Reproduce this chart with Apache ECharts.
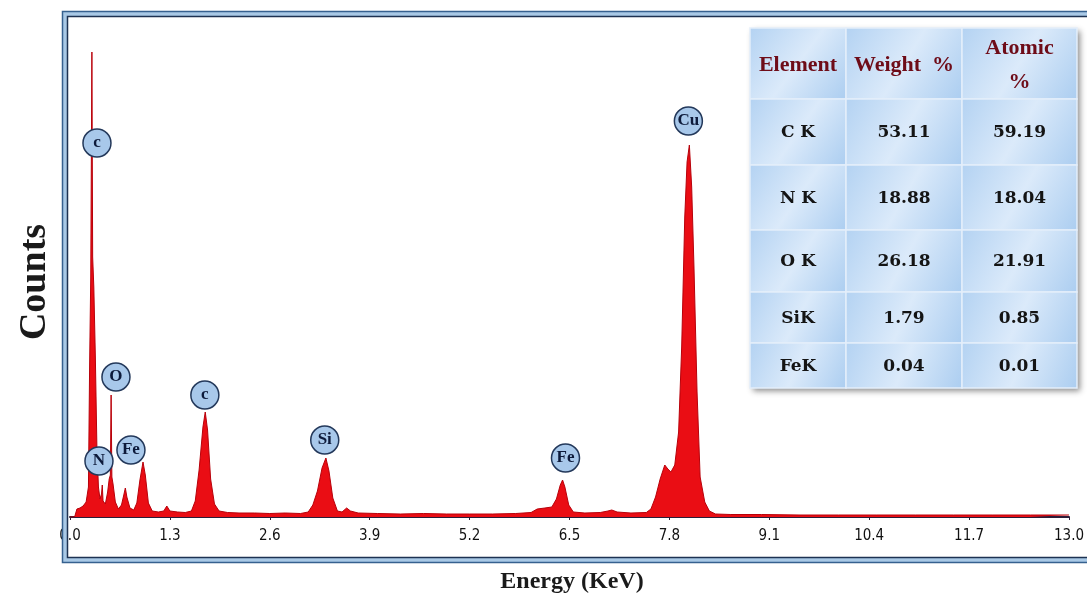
<!DOCTYPE html>
<html>
<head>
<meta charset="utf-8">
<script src="https://cdn.jsdelivr.net/npm/echarts@6/dist/echarts.min.js"></script>
<style>
html,body{margin:0;padding:0;background:#fff;}
#chart{width:1087px;height:597px;}
</style>
</head>
<body>
<div id="chart"></div>
<script>
// Spectrum (energy in keV, counts in arbitrary units)
const energy = [0.00,0.06,0.09,0.13,0.17,0.21,0.24,0.255,0.27,0.285,0.295,0.31,0.33,0.35,0.37,0.39,0.41,0.42,0.43,0.46,0.49,0.51,0.525,0.535,0.545,0.56,0.59,0.63,0.67,0.70,0.72,0.74,0.78,0.83,0.87,0.91,0.95,0.98,1.02,1.07,1.15,1.22,1.26,1.30,1.40,1.50,1.58,1.63,1.68,1.73,1.76,1.79,1.83,1.88,1.94,2.05,2.2,2.4,2.6,2.8,3.0,3.10,3.16,3.22,3.28,3.33,3.37,3.42,3.48,3.54,3.60,3.65,3.75,4.0,4.3,4.6,4.9,5.2,5.5,5.8,6.0,6.08,6.18,6.27,6.33,6.38,6.41,6.44,6.49,6.55,6.7,6.9,7.0,7.05,7.12,7.3,7.5,7.56,7.62,7.68,7.74,7.78,7.82,7.87,7.92,7.96,8.00,8.03,8.06,8.09,8.12,8.16,8.20,8.26,8.32,8.40,8.6,9.0,9.5,10.0,10.5,11.0,11.5,12.0,12.5,13.0];
const counts = [0,0,80,90,110,150,300,1500,2400,4650,2600,2300,1600,700,300,180,230,320,160,130,250,380,420,1220,400,330,150,80,120,220,290,200,90,70,140,370,550,420,140,60,50,60,110,60,50,45,60,160,470,900,1050,870,380,130,60,45,40,40,35,40,35,50,120,260,490,590,460,190,60,50,90,60,40,35,30,35,30,30,30,35,45,80,90,100,180,320,370,300,120,50,40,45,60,70,50,40,45,80,200,380,520,480,450,520,850,1700,3000,3550,3720,3300,2500,1250,400,150,60,30,25,25,20,20,20,20,20,20,20,20];

// Peak annotations
const peakNames  = ['c','N','O','Fe','c','Si','Fe','Cu'];
const peakEnergy = [0.351,0.377,0.598,0.793,1.755,3.315,6.448,8.047];
const peakCount  = [3740,560,1400,670,1220,770,590,3960];

// Axis ticks
const xMin = 0, xMax = 13, xStep = 1.3;

// Composition table
const tableHeader = ['Element','Weight  %','Atomic\n%'];
const tableElements = ['C K','N K','O K','SiK','FeK'];
const tableWeight = ['53.11','18.88','26.18','1.79','0.04'];
const tableAtomic = ['59.19','18.04','21.91','0.85','0.01'];

const chart = echarts.init(document.getElementById('chart'));

const serif = '"Liberation Serif","DejaVu Serif",serif';
const tserif = '"DejaVu Serif","Liberation Serif",serif';
const colX = [750, 846, 962, 1077];
const rowY = [28, 99, 165, 230, 292, 343, 388];

const tableEls = [];
tableEls.push({type:'rect', shape:{x:colX[0], y:rowY[0], width:colX[3]-colX[0], height:rowY[6]-rowY[0]},
  style:{fill:'#c4dcf4', shadowBlur:6, shadowColor:'rgba(0,0,0,0.45)', shadowOffsetX:3, shadowOffsetY:3}, z:50});
const rowsText = [tableHeader].concat(tableElements.map((e,i)=>[e, tableWeight[i], tableAtomic[i]]));
for (let r = 0; r < 6; r++) {
  for (let c = 0; c < 3; c++) {
    const x0 = colX[c], x1 = colX[c+1], y0 = rowY[r], y1 = rowY[r+1];
    tableEls.push({type:'rect', shape:{x:x0, y:y0, width:x1-x0, height:y1-y0},
      style:{fill:new echarts.graphic.LinearGradient(0,0,1,1,[{offset:0,color:'#b3d2f2'},{offset:0.5,color:'#dbeafa'},{offset:1,color:'#abcdf0'}]),
             stroke:'#e4eefa', lineWidth:1.5}, z:51});
    const header = r === 0;
    tableEls.push({type:'text', x:(x0+x1)/2, y:(y0+y1)/2 + (header ? 2 : 1),
      style:{text:rowsText[r][c], font:'bold ' + (header?22:17) + 'px ' + (header ? serif : tserif),
             fill: header ? '#6e0c18' : '#141414', align:'center', verticalAlign:'middle', lineHeight:34}, z:52});
  }
}

const frame = [
  {type:'rect', shape:{x:65, y:14, width:1040, height:546}, style:{fill:'none', stroke:'#a9c9e6', lineWidth:4}, z:60, silent:true},
  {type:'rect', shape:{x:62.5, y:11.5, width:1045, height:551}, style:{fill:'none', stroke:'#36618f', lineWidth:1.5}, z:61, silent:true},
  {type:'rect', shape:{x:67.5, y:16.5, width:1035, height:541}, style:{fill:'none', stroke:'#1d3252', lineWidth:1.5}, z:61, silent:true},
  {type:'text', x:35, y:282, rotation:Math.PI/2,
    style:{text:'Counts', font:'bold 38px ' + serif, fill:'#1a1a1a', align:'center', verticalAlign:'middle'}, z:60},
  {type:'text', x:572, y:582,
    style:{text:'Energy (KeV)', font:'bold 24px ' + serif, fill:'#1a1a1a', align:'center', verticalAlign:'middle'}, z:60}
];

chart.setOption({
  animation:false,
  backgroundColor:'#ffffff',
  grid:{left:70, right:17, top:15, bottom:80, containLabel:false},
  xAxis:{
    type:'value', min:xMin, max:xMax, interval:xStep,
    axisLine:{show:true, lineStyle:{color:'#2b1d38', width:2}},
    axisTick:{show:true, length:3, lineStyle:{color:'#2b1d38'}},
    splitLine:{show:false},
    axisLabel:{formatter:v=>v.toFixed(1), color:'#111', fontSize:15, margin:12,
      fontFamily:'"Liberation Sans Narrow","DejaVu Sans Condensed","Liberation Sans",sans-serif'}
  },
  yAxis:{type:'value', min:0, max:5020, show:false},
  series:[{
    type:'line',
    data:energy.map((e,i)=>[e, counts[i]]),
    showSymbol:false,
    smooth:false,
    lineStyle:{color:'#b8000a', width:1},
    areaStyle:{color:'#ea0d14', opacity:1},
    markPoint:{
      symbol:'circle', symbolSize:28,
      itemStyle:{color:'#a8c8ea', borderColor:'#23385a', borderWidth:1.5},
      label:{show:true, position:'inside', formatter:p=>p.name, color:'#0d1a3a',
             fontFamily:serif, fontWeight:'bold', fontSize:17},
      data:peakNames.map((n,i)=>({name:n, coord:[peakEnergy[i], peakCount[i]]}))
    },
    z:3
  }],
  graphic:tableEls.concat(frame)
});
</script>
</body>
</html>
